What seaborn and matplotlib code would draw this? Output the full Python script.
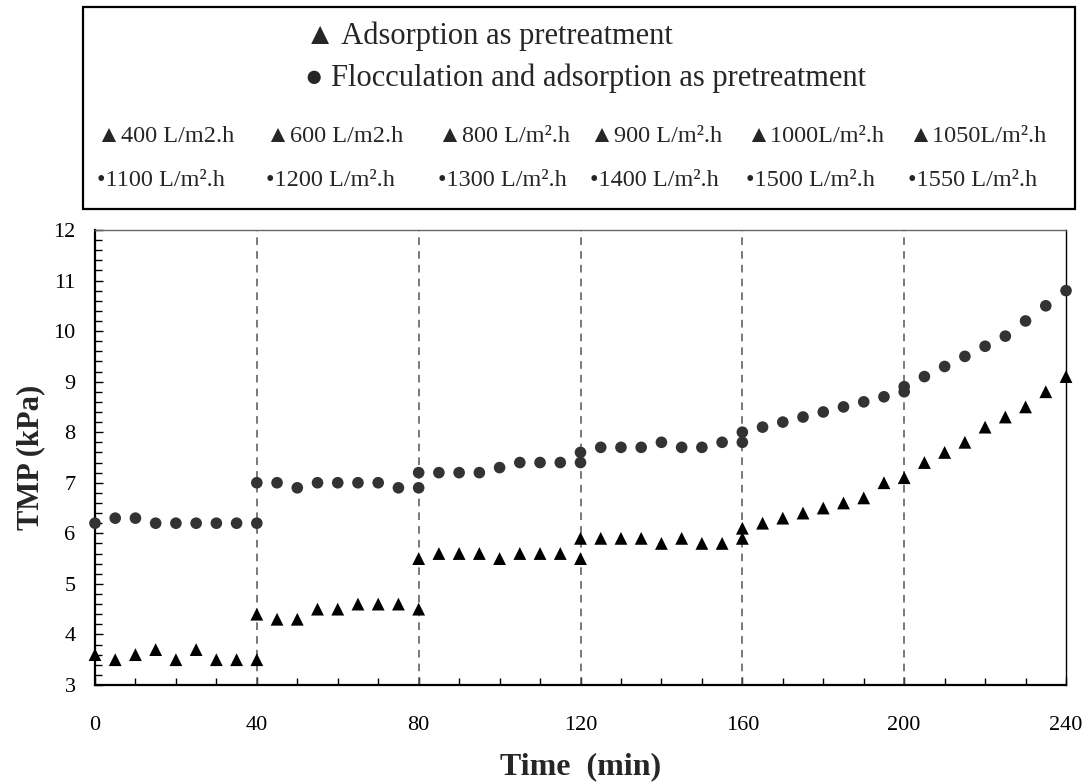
import matplotlib
matplotlib.use("Agg")
import matplotlib.pyplot as plt
from matplotlib.patches import Rectangle
from matplotlib.ticker import MultipleLocator
import seaborn as sns

# TMP data
time_ads = [0, 5, 10, 15, 20, 25, 30, 35, 40,
            40, 45, 50, 55, 60, 65, 70, 75, 80,
            80, 85, 90, 95, 100, 105, 110, 115, 120,
            120, 125, 130, 135, 140, 145, 150, 155, 160,
            160, 165, 170, 175, 180, 185, 190, 195, 200,
            205, 210, 215, 220, 225, 230, 235, 240]
tmp_ads = [3.6, 3.5, 3.6, 3.7, 3.5, 3.7, 3.5, 3.5, 3.5,
           4.4, 4.3, 4.3, 4.5, 4.5, 4.6, 4.6, 4.6, 4.5,
           5.5, 5.6, 5.6, 5.6, 5.5, 5.6, 5.6, 5.6, 5.5,
           5.9, 5.9, 5.9, 5.9, 5.8, 5.9, 5.8, 5.8, 5.9,
           6.1, 6.2, 6.3, 6.4, 6.5, 6.6, 6.7, 7.0, 7.1,
           7.4, 7.6, 7.8, 8.1, 8.3, 8.5, 8.8, 9.1]

time_floc = [0, 5, 10, 15, 20, 25, 30, 35, 40,
             40, 45, 50, 55, 60, 65, 70, 75, 80,
             80, 85, 90, 95, 100, 105, 110, 115, 120,
             120, 125, 130, 135, 140, 145, 150, 155, 160,
             160, 165, 170, 175, 180, 185, 190, 195, 200,
             200, 205, 210, 215, 220, 225, 230, 235, 240]
tmp_floc = [6.2, 6.3, 6.3, 6.2, 6.2, 6.2, 6.2, 6.2, 6.2,
            7.0, 7.0, 6.9, 7.0, 7.0, 7.0, 7.0, 6.9, 6.9,
            7.2, 7.2, 7.2, 7.2, 7.3, 7.4, 7.4, 7.4, 7.4,
            7.6, 7.7, 7.7, 7.7, 7.8, 7.7, 7.7, 7.8, 7.8,
            8.0, 8.1, 8.2, 8.3, 8.4, 8.5, 8.6, 8.7, 8.8,
            8.9, 9.1, 9.3, 9.5, 9.7, 9.9, 10.2, 10.5, 10.8]

# flux change times (dashed lines)
switch_times = [40, 80, 120, 160, 200]

header_labels = ["\u25B2 Adsorption as pretreatment",
                 "\u25CF Flocculation and adsorption as pretreatment"]
flux_ads_labels = ["\u25B2400 L/m2.h", "\u25B2600 L/m2.h", "\u25B2800 L/m\u00B2.h",
                   "\u25B2900 L/m\u00B2.h", "\u25B21000L/m\u00B2.h", "\u25B21050L/m\u00B2.h"]
flux_floc_labels = ["\u20221100 L/m\u00B2.h", "\u20221200 L/m\u00B2.h", "\u20221300 L/m\u00B2.h",
                    "\u20221400 L/m\u00B2.h", "\u20221500 L/m\u00B2.h", "\u20221550 L/m\u00B2.h"]

sns.set_style("white")
plt.rcParams['font.family'] = ['Liberation Serif', 'DejaVu Serif']

fig = plt.figure(figsize=(10.88, 7.83), dpi=100)
ax = fig.add_axes([0.0873, 0.1252, 0.8925, 0.5811])

for t in switch_times:
    ax.axvline(t, color='#555555', lw=1.1, ls=(0, (5, 4)), zorder=1)

sns.scatterplot(x=time_floc, y=tmp_floc, ax=ax, marker='o', color='#333333',
                s=70, edgecolor='none', zorder=3, clip_on=False)
sns.scatterplot(x=time_ads, y=tmp_ads, ax=ax, marker='^', color='black',
                s=85, edgecolor='none', zorder=3, clip_on=False)

ax.set_xlim(0, 240)
ax.set_ylim(3, 12)
ax.xaxis.set_major_locator(MultipleLocator(40))
ax.xaxis.set_minor_locator(MultipleLocator(10))
ax.yaxis.set_major_locator(MultipleLocator(1))
ax.yaxis.set_minor_locator(MultipleLocator(0.2))
ax.tick_params(axis='both', which='both', direction='in', colors='black',
               labelsize=16, width=1, bottom=True, left=True)
ax.tick_params(axis='both', which='major', length=6)
ax.tick_params(axis='both', which='minor', length=5)
ax.tick_params(axis='x', which='both', pad=22)
ax.tick_params(axis='y', which='both', pad=14)

for side in ['left', 'bottom']:
    ax.spines[side].set_color('black')
    ax.spines[side].set_linewidth(1.6)
ax.spines['right'].set_color('black')
ax.spines['right'].set_linewidth(1.0)
ax.spines['top'].set_color('#666666')
ax.spines['top'].set_linewidth(1.0)

ax.set_xlabel("Time  (min)", fontsize=23, fontweight='bold', labelpad=13)
ax.set_ylabel("TMP (kPa)", fontsize=22, fontweight='bold', labelpad=6)

# legend box drawn as a framed panel above the plot
fig.patches.append(Rectangle((0.0763, 0.733), 0.9117, 0.258, transform=fig.transFigure,
                             fill=False, edgecolor='black', lw=1.6))

fig.text(305 / 1088, 1 - 36 / 783, header_labels[0], fontsize=22, va='center', ha='left')
fig.text(305 / 1088, 1 - 78 / 783, header_labels[1], fontsize=22, va='center', ha='left')

col_x = [97, 266, 438, 590, 746, 908]
for x, lab in zip(col_x, flux_ads_labels):
    fig.text(x / 1088, 1 - 136 / 783, lab, fontsize=17.5, va='center', ha='left')
for x, lab in zip(col_x, flux_floc_labels):
    fig.text(x / 1088, 1 - 181 / 783, lab, fontsize=17.5, va='center', ha='left')

fig.savefig("out.png", dpi=100)
